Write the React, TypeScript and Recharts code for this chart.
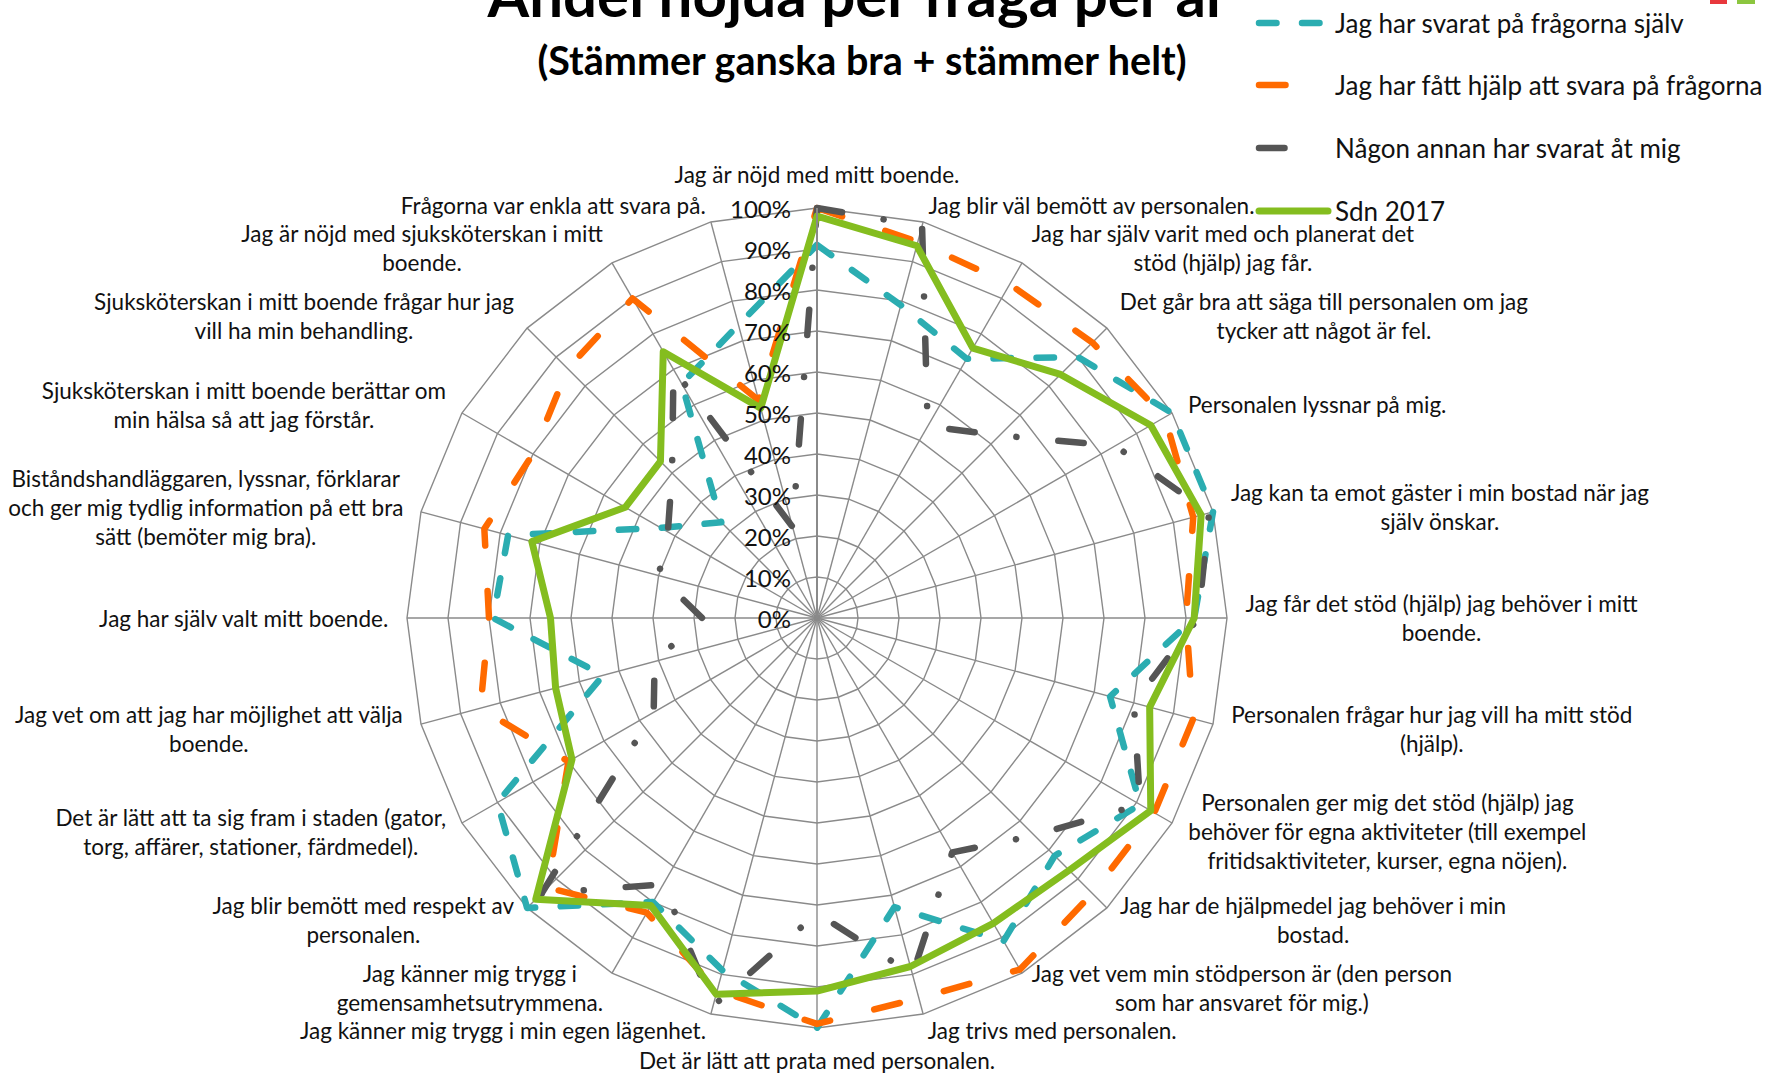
import React from "react"
import { RadarChart, PolarGrid, PolarAngleAxis, PolarRadiusAxis, Radar } from "recharts"

// frågor medurs från toppen, radbrytningar som i originalet
const questions = [
  "Jag är nöjd med mitt boende.",
  "Jag blir väl bemött av personalen.",
  "Jag har själv varit med och planerat det\nstöd (hjälp) jag får.",
  "Det går bra att säga till personalen om jag\ntycker att något är fel.",
  "Personalen lyssnar på mig.",
  "Jag kan ta emot gäster i min bostad när jag\nsjälv önskar.",
  "Jag får det stöd (hjälp) jag behöver i mitt\nboende.",
  "Personalen frågar hur jag vill ha mitt stöd\n(hjälp).",
  "Personalen ger mig det stöd (hjälp) jag\nbehöver för egna aktiviteter (till exempel\nfritidsaktiviteter, kurser, egna nöjen).",
  "Jag har de hjälpmedel jag behöver i min\nbostad.",
  "Jag vet vem min stödperson är (den person\nsom har ansvaret för mig.)",
  "Jag trivs med personalen.",
  "Det är lätt att prata med personalen.",
  "Jag känner mig trygg i min egen lägenhet.",
  "Jag känner mig trygg i\ngemensamhetsutrymmena.",
  "Jag blir bemött med respekt av\npersonalen.",
  "Det är lätt att ta sig fram i staden (gator,\ntorg, affärer, stationer, färdmedel).",
  "Jag vet om att jag har möjlighet att välja\nboende.",
  "Jag har själv valt mitt boende.",
  "Biståndshandläggaren, lyssnar, förklarar\noch ger mig tydlig information på ett bra\nsätt (bemöter mig bra).",
  "Sjuksköterskan i mitt boende berättar om\nmin hälsa så att jag förstår.",
  "Sjuksköterskan i mitt boende frågar hur jag\nvill ha min behandling.",
  "Jag är nöjd med sjuksköterskan i mitt\nboende.",
  "Frågorna var enkla att svara på.",
]

// andel nöjda i procent, samma ordning som frågorna
const svaratSjalv = [91, 79, 73, 90, 100, 100, 92, 74, 91, 82, 91, 73, 100, 89, 80, 100, 90, 54, 79, 78, 44, 33, 66, 74]
const fattHjalp = [100, 95, 94, 95, 98, 95, 90, 95, 95, 95, 99, 96, 99, 94, 83, 93, 70, 85, 80, 84, 80, 86, 90, 55]
const nagonAnnan = [100, 99, 54, 63, 84, 99, 93, 80, 91, 75, 66, 90, 72, 98, 75, 95, 46, 41, 28, 40, 42, 50, 70, 23]
const sdn2017 = [98, 94, 76, 84, 94, 97, 92, 84, 94, 87, 86, 88, 91, 95, 81, 97, 69, 66, 65, 72, 54, 54, 75, 53]

const series = [
  { key: "sjalv", name: "Jag har svarat på frågorna själv", color: "#2BADB1", dash: "17.5 25.5" },
  { key: "hjalp", name: "Jag har fått hjälp att svara på frågorna", color: "#FF6A00", dash: "26.5 45.5" },
  { key: "annan", name: "Någon annan har svarat åt mig", color: "#555555", dash: "25.5 42 0.1 42" },
  { key: "sdn", name: "Sdn 2017", color: "#84BD1F", dash: undefined as string | undefined },
]

const data = questions.map((q, i) => ({
  q,
  sjalv: svaratSjalv[i],
  hjalp: fattHjalp[i],
  annan: nagonAnnan[i],
  sdn: sdn2017[i],
}))

const W = 1769
const H = 1074
const CX = 817
const CY = 618
const R = 410
const FONT = "Lato, 'Open Sans', sans-serif"
const LABEL_SIZE = 22.5
const LINE_H = 29

let ctx: CanvasRenderingContext2D | null = null
const textWidth = (s: string, size: number) => {
  if (!ctx && typeof document !== "undefined") ctx = document.createElement("canvas").getContext("2d")
  if (!ctx) return s.length * size * 0.48
  ctx.font = `${size}px Lato`
  return ctx.measureText(s).width
}

const AngleTick = (props: any) => {
  const value = String(props.payload?.value ?? "")
  const idx = questions.indexOf(value)
  const lines = value.split("\n")
  const a = (idx * 2 * Math.PI) / questions.length
  const s = Math.sin(a)
  const c = Math.cos(a)
  const vx = CX + R * s
  const vy = CY - R * c
  const w = Math.max(...lines.map((l) => textWidth(l, LABEL_SIZE)))
  let bx = vx
  let by = vy
  if (Math.abs(s) < 0.01) {
    by = vy + (c > 0 ? -34 : 32)
  } else {
    bx = vx + 18 * s + Math.sign(s) * (w / 2)
    by = vy - 17 * c
  }
  return (
    <text fontFamily={FONT} fontSize={LABEL_SIZE} fill="#111">
      {lines.map((l, i) => (
        <tspan
          key={i}
          x={bx}
          y={by + (i - (lines.length - 1) / 2) * LINE_H}
          textAnchor="middle"
          dominantBaseline="central"
        >
          {l}
        </tspan>
      ))}
    </text>
  )
}

const RadiusTick = ({ x, y, payload }: any) => (
  <text x={x - 26} y={y} textAnchor="end" dominantBaseline="central" fontFamily={FONT} fontSize={24} fill="#111">
    {payload.value}%
  </text>
)

const legendY = [23, 85, 148, 211]
const swatchEnd = [1320, 1290, 1290, 1328]

export default function App() {
  return (
    <div style={{ position: "absolute", left: 0, top: 0, width: W, height: H, background: "#fff", overflow: "hidden" }}>
      <RadarChart width={W} height={H} data={data} cx={CX} cy={CY} outerRadius={R} margin={{ top: 0, right: 0, bottom: 0, left: 0 }}>
        <PolarGrid gridType="polygon" stroke="#8A8A8A" strokeWidth={1.4} />
        <PolarAngleAxis dataKey="q" tick={<AngleTick />} tickLine={false} axisLine={false} />
        <PolarRadiusAxis
          angle={90}
          domain={[0, 100]}
          tickCount={11}
          tick={<RadiusTick />}
          tickLine={false}
          axisLine={{ stroke: "#8A8A8A", strokeWidth: 2 }}
        />
        {series.map((s) => (
          <Radar
            key={s.key}
            name={s.name}
            dataKey={s.key}
            stroke={s.color}
            strokeWidth={s.dash ? 6.5 : 7}
            strokeDasharray={s.dash}
            strokeLinecap="round"
            strokeLinejoin="round"
            fill="none"
            fillOpacity={0}
            dot={false}
            isAnimationActive={false}
          />
        ))}
      </RadarChart>
      <svg width={W} height={H} style={{ position: "absolute", left: 0, top: 0, pointerEvents: "none" }}>
        <text x={858} y={17} textAnchor="middle" fontFamily={FONT} fontWeight={700} fontSize={60} fill="#000">
          Andel nöjda per fråga per år
        </text>
        <text x={862} y={59} textAnchor="middle" dominantBaseline="central" fontFamily={FONT} fontWeight={700} fontSize={39.5} fill="#000">
          (Stämmer ganska bra + stämmer helt)
        </text>
        {series.map((s, i) => (
          <g key={s.key}>
            <line
              x1={1259}
              x2={swatchEnd[i]}
              y1={legendY[i]}
              y2={legendY[i]}
              stroke={s.color}
              strokeWidth={s.dash ? 6.5 : 7}
              strokeDasharray={s.dash}
              strokeLinecap="round"
            />
            <text x={1335} y={legendY[i]} dominantBaseline="central" fontFamily={FONT} fontSize={26} fill="#111">
              {s.name}
            </text>
          </g>
        ))}
        <rect x={1710} y={0} width={17} height={4} fill="#E8383D" />
        <rect x={1737} y={0} width={18} height={4} fill="#8CC63F" />
      </svg>
    </div>
  )
}
